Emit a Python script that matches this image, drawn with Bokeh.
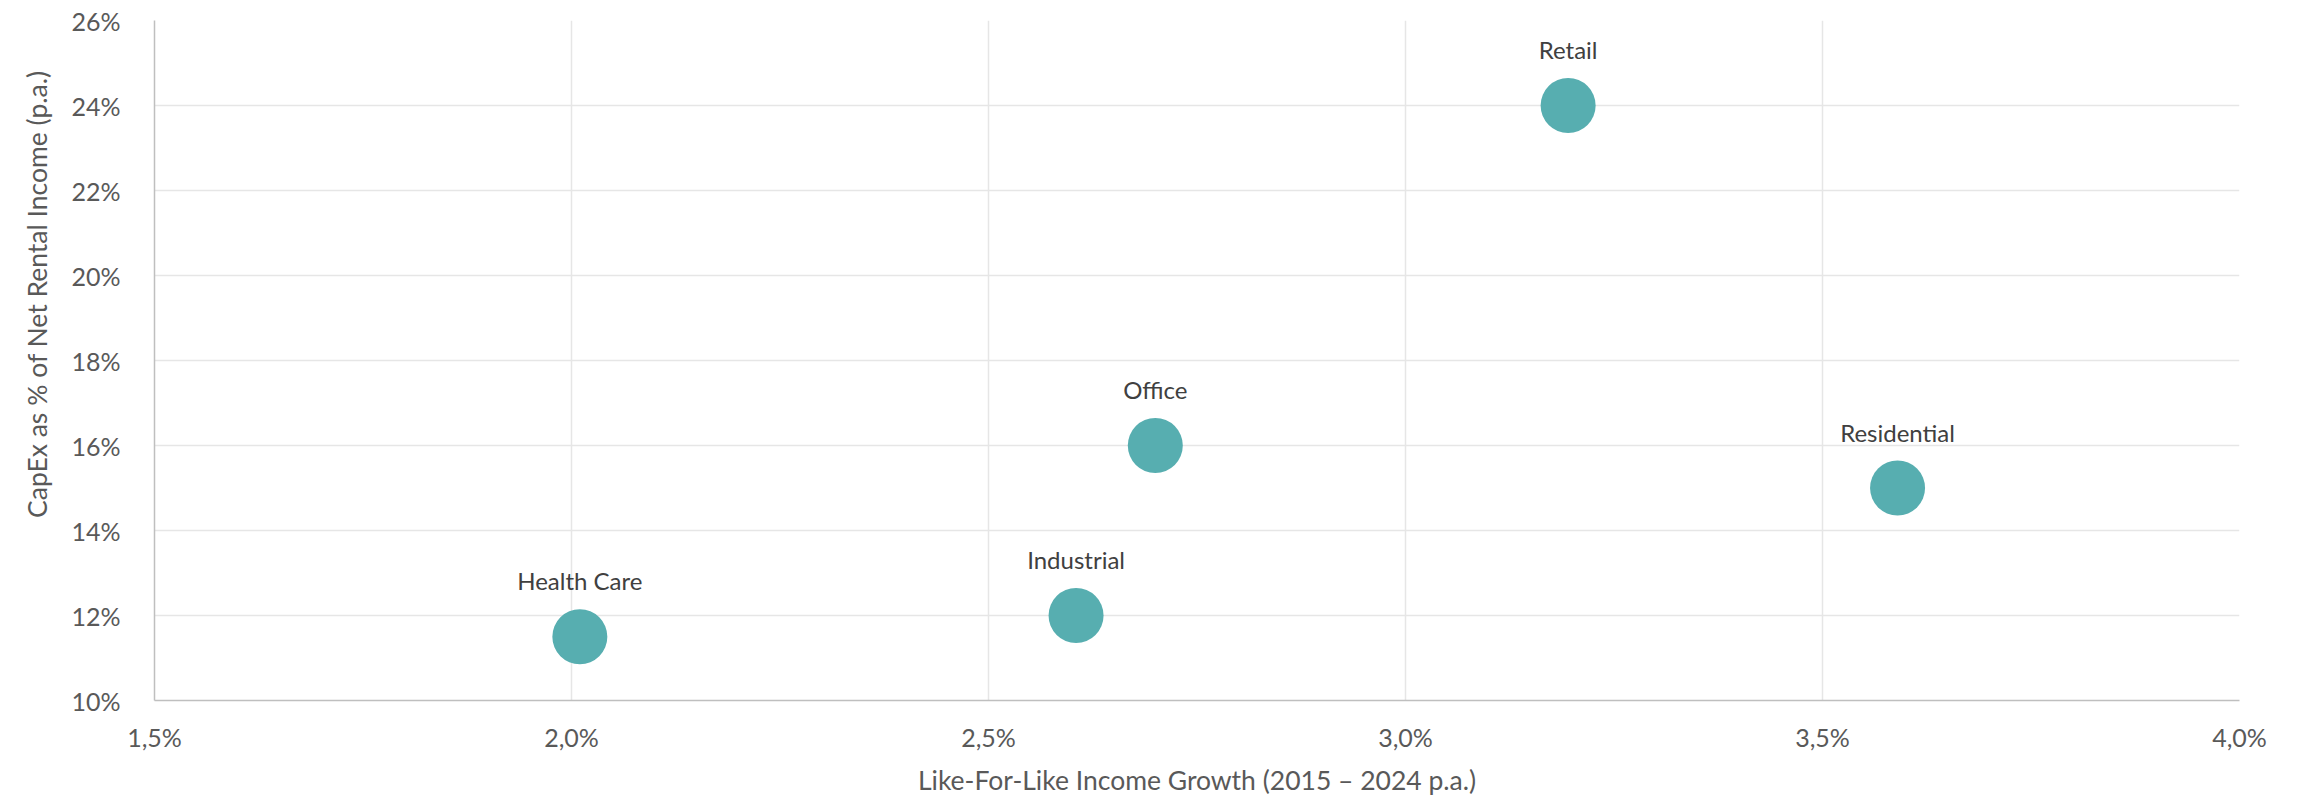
from bokeh.plotting import figure
from bokeh.models import ColumnDataSource, FixedTicker, Range1d, Title
from bokeh.core.properties import value
from bokeh.embed import file_html
from bokeh.resources import INLINE

# Data
sectors = ["Health Care", "Industrial", "Office", "Retail", "Residential"]
income_growth = [2.01, 2.605, 2.70, 3.195, 3.59]
capex_pct = [11.5, 12.0, 16.0, 24.0, 15.0]

x_ticks = [1.5, 2.0, 2.5, 3.0, 3.5, 4.0]
x_tick_labels = ["1,5%", "2,0%", "2,5%", "3,0%", "3,5%", "4,0%"]
y_ticks = [10, 12, 14, 16, 18, 20, 22, 24, 26]
y_tick_labels = ["10%", "12%", "14%", "16%", "18%", "20%", "22%", "24%", "26%"]

x_title = "Like-For-Like Income Growth (2015 – 2024 p.a.)"
y_title = "CapEx as % of Net Rental Income (p.a.)"

FONT = "Lato"
TICK_COLOR = "#595959"
LABEL_COLOR = "#404040"
POINT_COLOR = "#57AEB0"

src = ColumnDataSource(dict(x=income_growth, y=capex_pct, name=sectors))

p = figure(width=2298, height=798, output_backend="svg", toolbar_location=None,
           x_range=Range1d(1.5, 4.0), y_range=Range1d(10, 26),
           min_border_left=154, min_border_right=59, min_border_top=20, min_border_bottom=98)
p.background_fill_color = "white"
p.border_fill_color = "white"
p.outline_line_color = None

p.scatter("x", "y", source=src, size=55, fill_color=POINT_COLOR, line_color=None)
p.text("x", "y", text="name", source=src, y_offset=-56, text_align="center",
       text_baseline="middle", text_font=value(FONT), text_font_size="24px",
       text_color=LABEL_COLOR)

p.xaxis.ticker = FixedTicker(ticks=x_ticks)
p.yaxis.ticker = FixedTicker(ticks=y_ticks)
p.xaxis.major_label_overrides = dict(zip(x_ticks, x_tick_labels))
p.yaxis.major_label_overrides = dict(zip(y_ticks, y_tick_labels))

for ax in (p.xaxis, p.yaxis):
    ax.major_tick_line_color = None
    ax.minor_tick_line_color = None
    ax.axis_line_color = "#BFBFBF"
    ax.axis_line_width = 1.5
    ax.major_label_text_font = FONT
    ax.major_label_text_font_size = "25px"
    ax.major_label_text_color = TICK_COLOR
    ax.axis_label_text_font = FONT
    ax.axis_label_text_font_size = "26.5px"
    ax.axis_label_text_color = TICK_COLOR
    ax.axis_label_text_font_style = "normal"

p.xaxis.axis_label = x_title
p.xaxis.major_label_standoff = 15
p.yaxis.major_label_standoff = 28
p.xaxis.axis_label_standoff = 9

# Y-axis title (placed off-centre, as in the reference)
p.add_layout(Title(text=y_title, align="right", offset=50, standoff=32,
                   text_font=FONT, text_font_size="26.5px", text_color=TICK_COLOR,
                   text_font_style="normal"), "left")

p.xgrid.grid_line_color = "#E6E6E6"
p.ygrid.grid_line_color = "#E6E6E6"
p.xgrid.grid_line_width = 1.5
p.ygrid.grid_line_width = 1.5

open("out.html", "w").write(file_html(p, INLINE))
